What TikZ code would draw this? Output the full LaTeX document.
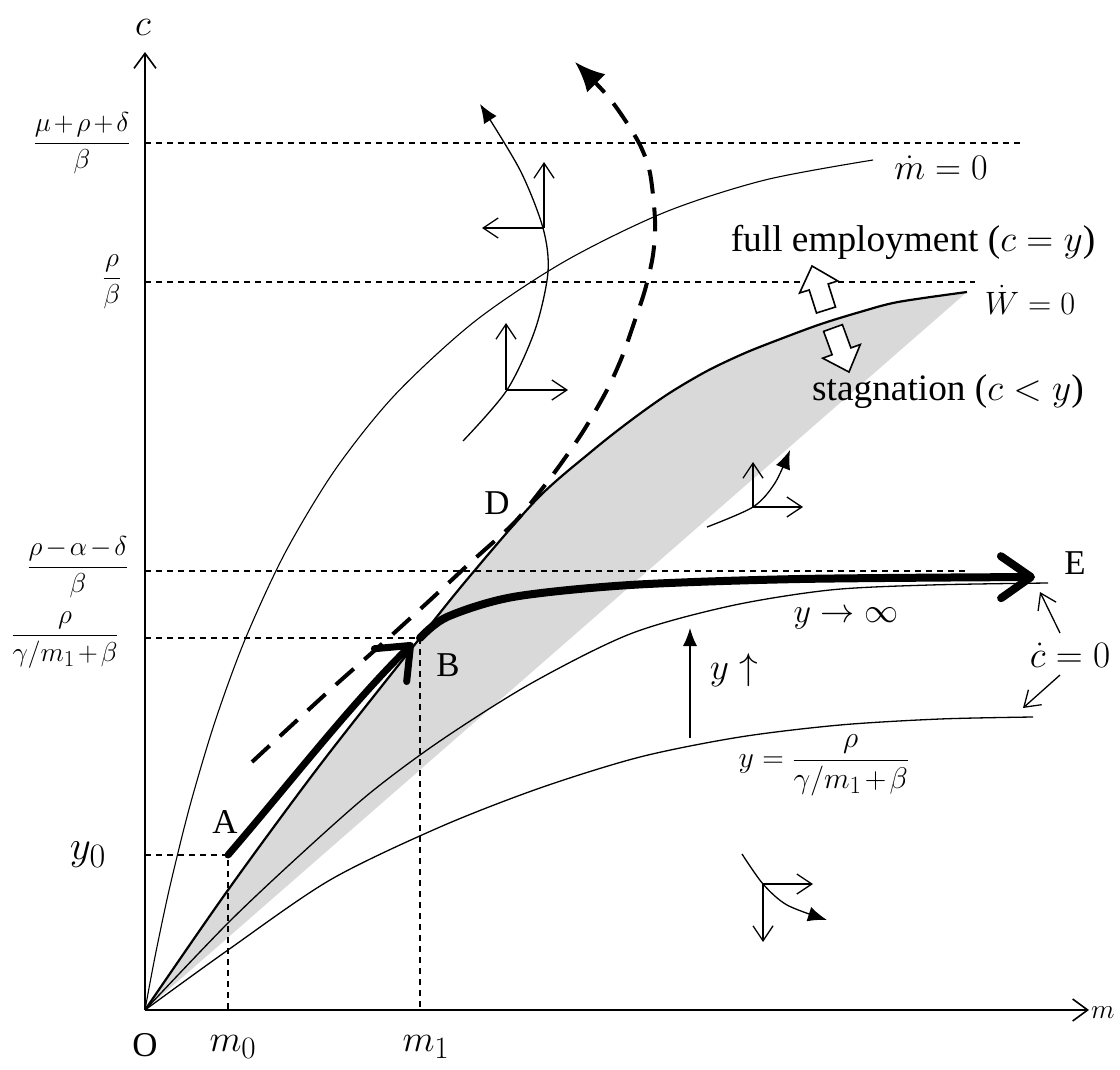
\RequirePackage{fix-cm}
\documentclass[tikz,border=0pt]{standalone}
\usepackage{graphicx}
\usepackage{fontspec}
\setmainfont{Liberation Serif}
\usetikzlibrary{arrows.meta}
\newcommand{\dfr}[2]{{\displaystyle\frac{#1}{#2}}}
\newcommand{\scl}[2]{\scalebox{#1}{#2}}
\begin{document}
\begin{tikzpicture}[x=1pt,y=-1pt,
  axis/.style={line width=1.6pt,-{Straight Barb[length=15pt,width=22pt]}},
  guide/.style={line width=1.2pt,dash pattern=on 6pt off 5pt},
  thinc/.style={line width=1.3pt},
  phase/.style={line width=1.3pt,-{Straight Barb[length=15pt,width=20pt]}},
  traj/.style={line width=1.3pt,-{Latex[length=19pt,width=15pt]}},
  lbl/.style={inner sep=0pt,font=\fontsize{24.88}{30}\selectfont},
  blockarrow/.style={draw,line width=1.6pt,fill=white,line join=miter}]
\useasboundingbox (0,0) rectangle (1120,1070);

% shaded stagnation region
\fill[black!15] plot[smooth] coordinates {(145,1010) (228,890) (320,765) (420,638) (470,576) (538,498) (592,451) (630,421) (668,394) (707,371) (745,353) (783,338) (821,324) (860,312) (898,302) (967,292)} -- cycle;

% key points
\coordinate (O) at (145,1010);
\coordinate (A) at (228,855);
\coordinate (B) at (420,638);
\coordinate (Eend) at (1035,577);

% guide lines
\draw[guide] (145,143) -- (1020,143);
\draw[guide] (145,282) -- (975,282);
\draw[guide] (145,571) -- (965,571);
\draw[guide] (145,638) -- (B) -- (420,1010);
\draw[guide] (145,855) -- (A) -- (228,1010);

% axes
\draw[axis] (O) -- (1089,1010);
\draw[axis] (O) -- (145,52);

% m-dot = 0
\draw[line width=1.1pt] plot[smooth] coordinates {(145,1010) (150,982.8) (157,946.8) (170,886.1) (190,805.5) (215,721.6) (245,639.6) (285,553.0) (335,469.9) (395,394.8) (475,321.2) (565,261.2) (665,212.2) (765,180) (873,160)};

% W-dot = 0
\draw[line width=2.2pt] plot[smooth] coordinates {(145,1010) (228,890) (320,765) (420,638) (470,576) (538,498) (592,451) (630,421) (668,394) (707,371) (745,353) (783,338) (821,324) (860,312) (898,302) (967,292)};

% c-dot = 0 curves
\draw[thinc] plot[smooth] coordinates {(145,1010) (228,923) (300,855) (370,793) (440,741) (530,684) (630,634) (730,606) (830,590) (930,585) (1048,583)};
\draw[thinc] plot[smooth] coordinates {(145,1010) (228,950) (330,880) (440,827) (540,788) (640,757) (740,737) (840,725) (940,719) (1033,717)};

% dashed trajectory
\draw[line width=4pt,dash pattern=on 24pt off 14pt,-{Latex[length=30pt,width=26pt]}] plot[smooth] coordinates {(252,762) (330,690) (383,643) (428,602) (470,563) (513,524) (538,494) (560,465) (584,430) (607,390) (622,357) (634,323) (645,290) (653,255) (655,220) (650,173) (640,145) (623,117) (605,93) (575,62)};

% thick path A -> B
\draw[line width=7pt,line cap=round,-{Straight Barb[length=28pt,width=46pt,round]}] (A) .. controls (290,783) and (350,705) .. (413,643);

% thick path B -> E
\draw[line width=8pt,line cap=round,-{Straight Barb[length=30pt,width=42pt,round]}] plot[smooth] coordinates {(B) (447,617) (513,597) (630,585) (800,579) (Eend)};

% phase cluster top
\draw[traj] plot[smooth] coordinates {(463,441) (507,390) (535,330) (548,272) (543,228) (520,170) (480,104)};
\coordinate (p1) at (544,228);
\coordinate (p2) at (506,390);
\draw[phase] (p1) -- (544,162);
\draw[phase] (p1) -- (482,228);
\draw[phase] (p2) -- (506,323);
\draw[phase] (p2) -- (568,390);

% phase cluster middle right
\coordinate (p3) at (753,507);
\draw[traj] plot[smooth] coordinates {(707,527) (p3) (775,483) (790,450)};
\draw[phase] (p3) -- (753,462);
\draw[phase] (p3) -- (803,507);

% phase cluster bottom
\coordinate (p4) at (763,884);
\draw[traj] plot[smooth] coordinates {(742,854) (p4) (787,905) (827,920)};
\draw[phase] (p4) -- (813,884);
\draw[phase] (p4) -- (763,942);

% y up arrow
\draw[line width=1.3pt,-{Latex[length=18pt,width=14pt]}] (690,738) -- (690,628);

% block arrows
\draw[blockarrow] (812,266) -- (837.7,280.9) -- (828.2,284.0) -- (835.5,307.0) -- (816.5,313.0) -- (809.2,290.0) -- (799.6,293.0) -- cycle;
\draw[blockarrow] (849,372) -- (860.3,344.5) -- (850.9,347.9) -- (842.4,324.6) -- (823.6,331.4) -- (832.1,354.7) -- (822.7,358.2) -- cycle;

% axis labels
\node[lbl] (lc) at (143,27) {\scl{1.5}{$c$}};
\node[lbl,anchor=west] (lm) at (1091,1013) {\scl{1.1}{$m$}};
\node[lbl] (lO) at (145,1045) {\scl{1.4}{O}};
\node[lbl] (lm0) at (233,1047) {\scl{1.5}{$m_0$}};
\node[lbl] (lm1) at (426,1047) {\scl{1.5}{$m_1$}};
\node[lbl] (ly0) at (88,855) {\scl{1.65}{$y_0$}};
\node[lbl] (f1) at (82,143) {\scl{1.1}{$\medmuskip=2mu\dfr{\mu+\rho+\delta}{\beta}$}};
\node[lbl] (f2) at (112,282) {\scl{1.1}{$\dfr{\rho}{\beta}$}};
\node[lbl] (f3) at (78,567) {\scl{1.1}{$\medmuskip=2mu\dfr{\rho-\alpha-\delta}{\beta}$}};
\node[lbl] (f4) at (65,640) {\scl{1.1}{$\medmuskip=2mu\dfr{\rho}{\gamma/m_1+\beta}$}};

% point labels
\node[lbl] (lA) at (225,822) {\scl{1.4}{A}};
\node[lbl] (lB) at (448,665) {\scl{1.4}{B}};
\node[lbl] (lD) at (497,503) {\scl{1.4}{D}};
\node[lbl] (lE) at (1075,563) {\scl{1.4}{E}};

% curve and region labels
\node[lbl] (lmdot) at (941,168) {\scl{1.45}{$\dot m = 0$}};
\node[lbl] (lfull) at (913,242) {\scl{1.5}{full employment ($c = y$)}};
\node[lbl] (lWdot) at (1030,300) {\scl{1.3}{$\dot W = 0$}};
\node[lbl] (lstag) at (948,392) {\scl{1.5}{stagnation ($c < y$)}};
\node[lbl] (linf) at (846,618) {\scl{1.37}{$y \to \infty$}};
\node[lbl] (lyup) at (734,670) {\scl{1.5}{$y \uparrow$}};
\node[lbl] (lcdot) at (1070,655) {\scl{1.5}{$\dot c = 0$}};
\node[lbl] (lyfrac) at (824,765) {\scl{1.2}{$\medmuskip=2mu y = \dfr{\rho}{\gamma/m_1+\beta}$}};

% pointers from c-dot label
\draw[phase] (1060,633) -- (1040,592);
\draw[phase] (1060,675) -- (1023,708);
\end{tikzpicture}
\end{document}
